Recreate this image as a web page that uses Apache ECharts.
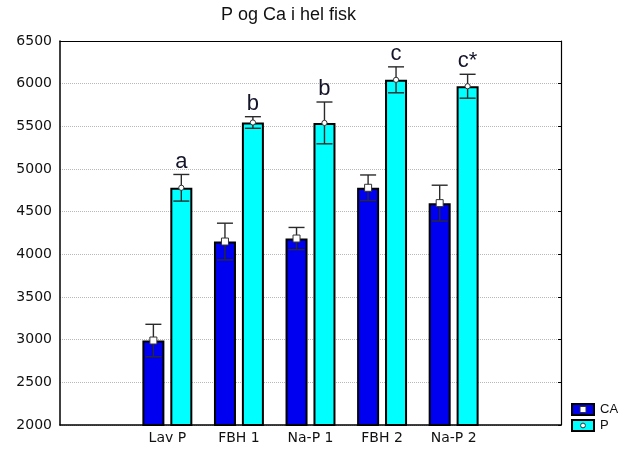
<!DOCTYPE html>
<html>
<head>
<meta charset="utf-8">
<script src="https://cdn.jsdelivr.net/npm/echarts@6/dist/echarts.min.js"></script>
<style>
  html, body { margin: 0; padding: 0; background: #fff; }
  #chart { width: 619px; height: 452px; }
</style>
</head>
<body>
<div id="chart"></div>
<script>
// Groups along the x axis (empty slots at both ends keep the frame padding)
const categories = ['', 'Lav P', 'FBH 1', 'Na-P 1', 'FBH 2', 'Na-P 2', ''];
const seriesNames = ['CA', 'P'];
// Means and error half-widths per group
const caMean = [null, 2990, 4150, 4185, 4780, 4600, null];
const caErr  = [null, 190, 215, 130, 150, 210, null];
const pMean  = [null, 4780, 5545, 5540, 6045, 5970, null];
const pErr   = [null, 156, 68, 245, 152, 140, null];
// Significance letters written above the P bars
const groupLetters = ['', 'a', 'b', 'b', 'c', 'c*', ''];
// Value axis ticks
const yMin = 2000, yMax = 6500, yStep = 500;

const FONT = 'Liberation Sans, Arial, sans-serif';
const TICK_FONT = 'DejaVu Sans, sans-serif';
const BAR_W = 22;
const BAR_GAP = 0.27;
const HALF_PAIR = BAR_W * (1 + BAR_GAP) / 2;   // distance from group centre to each bar centre
const COLORS = ['#0000f0', '#00ffff'];

const chart = echarts.init(document.getElementById('chart'), null, { renderer: 'canvas' });

function errorData(means, errs) {
  const out = [];
  means.forEach((m, i) => { if (m != null) out.push([i, m, errs[i]]); });
  return out;
}

// Error bar + mean marker for one bar series
function errorSeries(means, errs, side, marker) {
  return {
    type: 'custom',
    xAxisIndex: 0, yAxisIndex: 0,
    z: 10,
    silent: true,
    data: errorData(means, errs),
    encode: { x: 0, y: 1 },
    renderItem: function (params, api) {
      const idx = api.value(0), m = api.value(1), e = api.value(2);
      const c = api.coord([idx, m]);
      const top = api.coord([idx, m + e]);
      const bot = api.coord([idx, m - e]);
      const x = c[0] + side * HALF_PAIR;
      const cap = 8;
      const ls = { stroke: '#2a2a2a', lineWidth: 1.4 };
      const children = [
        { type: 'line', shape: { x1: x, y1: top[1], x2: x, y2: bot[1] }, style: ls },
        { type: 'line', shape: { x1: x - cap, y1: top[1], x2: x + cap, y2: top[1] }, style: ls },
        { type: 'line', shape: { x1: x - cap, y1: bot[1], x2: x + cap, y2: bot[1] }, style: ls }
      ];
      if (marker === 'square') {
        children.push({ type: 'rect', shape: { x: x - 3.5, y: c[1] - 3.5, width: 7, height: 7 },
          style: { fill: '#fff', stroke: '#333', lineWidth: 1 } });
      } else {
        children.push({ type: 'circle', shape: { cx: x, cy: c[1], r: 2.6 },
          style: { fill: '#fff', stroke: '#333', lineWidth: 1 } });
      }
      return { type: 'group', children: children };
    }
  };
}

const letterData = [];
groupLetters.forEach((t, i) => { if (t) letterData.push([i, pMean[i] + pErr[i], t]); });

const option = {
  animation: false,
  backgroundColor: '#fff',
  textStyle: { fontFamily: FONT },
  title: {
    text: 'P og Ca i hel fisk',
    left: 221, top: 6, padding: 0,
    textStyle: { fontFamily: FONT, fontSize: 18, fontWeight: 'normal', color: '#111' }
  },
  grid: { left: 60, right: 58, top: 41, bottom: 27, containLabel: false },
  xAxis: [
    {
      type: 'category', data: categories, position: 'bottom',
      axisLine: { lineStyle: { color: '#000', width: 1.5 } },
      axisTick: { inside: true, alignWithLabel: true, length: 3, lineStyle: { color: '#000' } },
      axisLabel: { color: '#111', fontSize: 14, fontFamily: TICK_FONT, margin: 6, interval: 0 },
      splitLine: { show: false }
    },
    {
      type: 'category', data: categories, position: 'top',
      axisLine: { lineStyle: { color: '#000', width: 1.2 } },
      axisTick: { inside: true, alignWithLabel: true, length: 3, lineStyle: { color: '#000' } },
      axisLabel: { show: false },
      splitLine: { show: false }
    }
  ],
  yAxis: [
    {
      type: 'value', min: yMin, max: yMax, interval: yStep, position: 'left',
      axisLine: { show: true, lineStyle: { color: '#000', width: 1.5 } },
      axisTick: { show: false },
      axisLabel: { color: '#111', fontSize: 14, fontFamily: TICK_FONT, margin: 8,
        formatter: v => String(v) },
      splitLine: { show: true, lineStyle: { color: '#b8b8b8', type: 'dotted', width: 1 } }
    },
    {
      type: 'value', min: yMin, max: yMax, interval: yStep, position: 'right',
      axisLine: { show: true, lineStyle: { color: '#000', width: 1.2 } },
      axisTick: { show: true, inside: true, length: 3, lineStyle: { color: '#000' } },
      axisLabel: { show: false },
      splitLine: { show: false }
    }
  ],
  series: [
    {
      name: seriesNames[0], type: 'bar', data: caMean,
      barWidth: BAR_W, barGap: (BAR_GAP * 100) + '%',
      itemStyle: { color: COLORS[0], borderColor: '#000', borderWidth: 2 }
    },
    {
      name: seriesNames[1], type: 'bar', data: pMean,
      barWidth: BAR_W, barGap: (BAR_GAP * 100) + '%',
      itemStyle: { color: COLORS[1], borderColor: '#000', borderWidth: 2 }
    },
    errorSeries(caMean, caErr, -1, 'square'),
    errorSeries(pMean, pErr, 1, 'circle'),
    {
      type: 'custom', xAxisIndex: 0, yAxisIndex: 0, z: 11, silent: true,
      data: letterData, encode: { x: 0, y: 1 },
      renderItem: function (params, api) {
        const c = api.coord([api.value(0), api.value(1)]);
        return {
          type: 'text',
          style: {
            text: letterData[params.dataIndex][2],
            x: c[0] + HALF_PAIR, y: c[1] - 2,
            align: 'center', verticalAlign: 'bottom',
            font: '22px ' + FONT, fill: '#14142a'
          }
        };
      }
    }
  ],
  // Legend: coloured boxes with the mean marker drawn inside
  graphic: seriesNames.map((name, k) => ({
    type: 'group', left: 571, top: 403 + k * 16,
    children: [
      { type: 'rect', shape: { x: 0, y: 0, width: 22, height: 11 },
        style: { fill: COLORS[k], stroke: '#000', lineWidth: 2 } },
      k === 0
        ? { type: 'rect', shape: { x: 8, y: 2.5, width: 6, height: 6 }, style: { fill: '#fff', stroke: '#333', lineWidth: 1 } }
        : { type: 'circle', shape: { cx: 11, cy: 5.5, r: 2.4 }, style: { fill: '#fff', stroke: '#333', lineWidth: 1 } },
      { type: 'text', style: { text: name, x: 28, y: 5.5, verticalAlign: 'middle',
          font: '13px ' + FONT, fill: '#111' } }
    ]
  }))
};

chart.setOption(option);
</script>
</body>
</html>
